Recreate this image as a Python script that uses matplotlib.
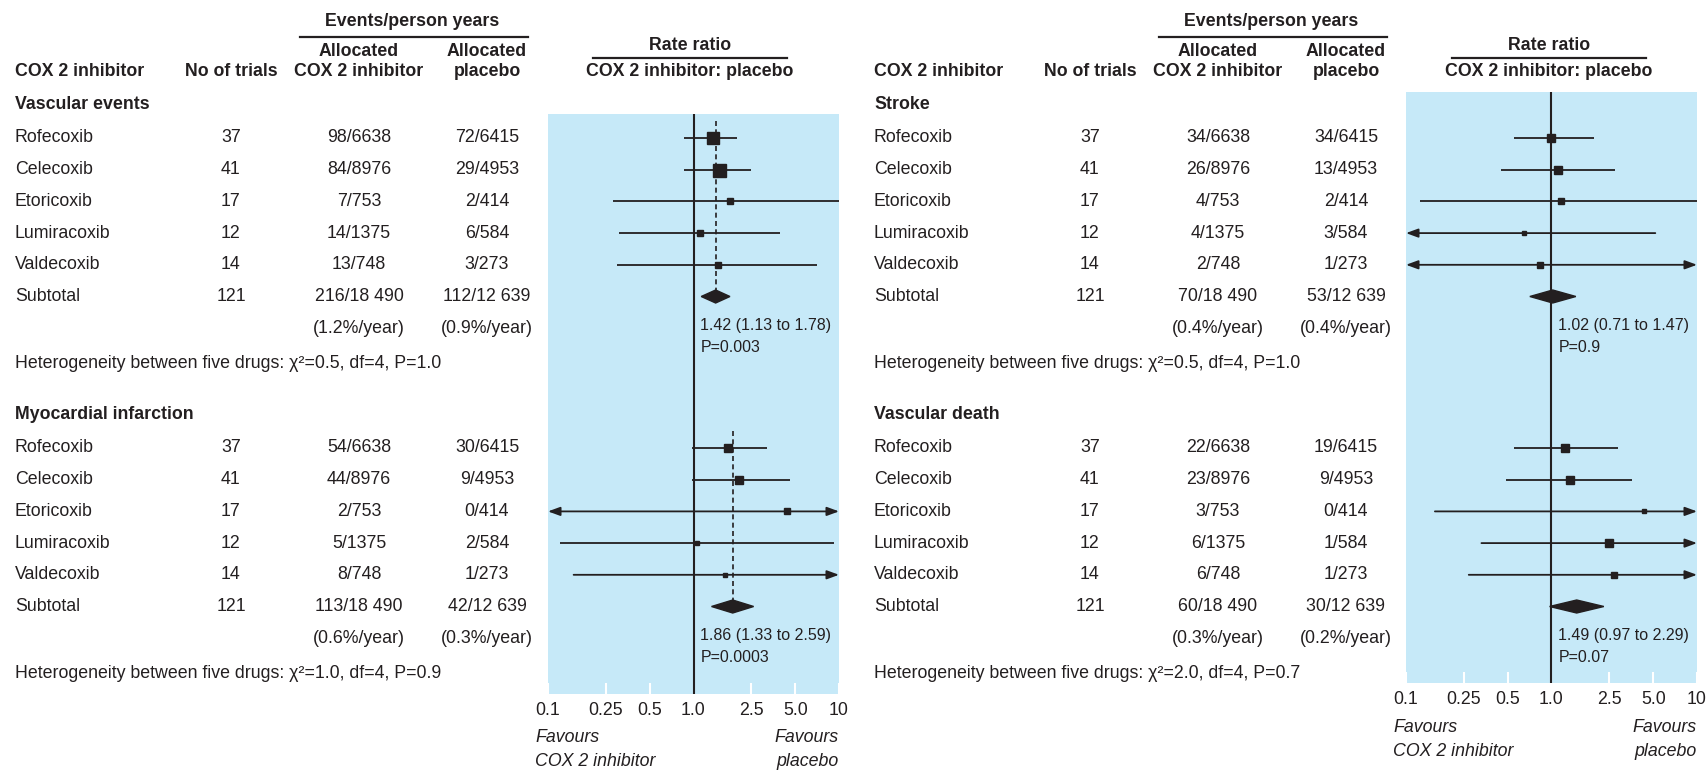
import matplotlib
matplotlib.use('Agg')
import matplotlib.pyplot as plt
from matplotlib.patches import Polygon

W, H = 1708, 773
BLUE = '#c6e9f8'
INK = '#231f20'
FS = 12.8

plt.rcParams['font.family'] = ['Liberation Sans', 'DejaVu Sans']

# ---- data ----
drugs = ['Rofecoxib', 'Celecoxib', 'Etoricoxib', 'Lumiracoxib', 'Valdecoxib']
n_trials = [37, 41, 17, 12, 14]
n_trials_total = 121
ticks = [0.1, 0.25, 0.5, 1.0, 2.5, 5.0, 10]
tick_labels = ['0.1', '0.25', '0.5', '1.0', '2.5', '5.0', '10']

# vascular events
ve_cox = ['98/6638', '84/8976', '7/753', '14/1375', '13/748']
ve_pla = ['72/6415', '29/4953', '2/414', '6/584', '3/273']
ve_tot = ['216/18 490', '112/12 639', '(1.2%/year)', '(0.9%/year)']
ve_rr = [1.37, 1.49, 1.78, 1.10, 1.47]
ve_lo = [0.86, 0.86, 0.28, 0.31, 0.30]
ve_hi = [2.00, 2.48, 10.0, 3.95, 7.10]
ve_box = [12, 13, 6, 6, 6.5]
ve_sum = [1.42, 1.13, 1.78]
ve_p = 'P=0.003'
ve_het = 'Heterogeneity between five drugs: χ²=0.5, df=4, P=1.0'

# myocardial infarction
mi_cox = ['54/6638', '44/8976', '2/753', '5/1375', '8/748']
mi_pla = ['30/6415', '9/4953', '0/414', '2/584', '1/273']
mi_tot = ['113/18 490', '42/12 639', '(0.6%/year)', '(0.3%/year)']
mi_rr = [1.73, 2.06, 4.37, 1.05, 1.65]
mi_lo = [0.98, 0.98, 0.05, 0.12, 0.15]
mi_hi = [3.20, 4.58, 20, 9.30, 20]
mi_box = [8.5, 8.7, 5.7, 4.7, 4]
mi_sum = [1.86, 1.33, 2.59]
mi_p = 'P=0.0003'
mi_het = 'Heterogeneity between five drugs: χ²=1.0, df=4, P=0.9'

# stroke
st_cox = ['34/6638', '26/8976', '4/753', '4/1375', '2/748']
st_pla = ['34/6415', '13/4953', '2/414', '3/584', '1/273']
st_tot = ['70/18 490', '53/12 639', '(0.4%/year)', '(0.4%/year)']
st_rr = [1.00, 1.11, 1.16, 0.65, 0.84]
st_lo = [0.55, 0.45, 0.125, 0.05, 0.05]
st_hi = [1.96, 2.75, 10.0, 5.17, 20]
st_box = [8.7, 7.7, 6, 4.3, 5.7]
st_sum = [1.02, 0.71, 1.47]
st_p = 'P=0.9'
st_het = 'Heterogeneity between five drugs: χ²=0.5, df=4, P=1.0'

# vascular death
vd_cox = ['22/6638', '23/8976', '3/753', '6/1375', '6/748']
vd_pla = ['19/6415', '9/4953', '0/414', '1/584', '1/273']
vd_tot = ['60/18 490', '30/12 639', '(0.3%/year)', '(0.2%/year)']
vd_rr = [1.23, 1.33, 4.32, 2.47, 2.69]
vd_lo = [0.55, 0.49, 0.158, 0.33, 0.27]
vd_hi = [2.88, 3.59, 20, 20, 20]
vd_box = [8.3, 8.7, 5, 7.3, 6]
vd_sum = [1.49, 0.97, 2.29]
vd_p = 'P=0.07'
vd_het = 'Heterogeneity between five drugs: χ²=2.0, df=4, P=0.7'

# ---- layout (pixels, y down) ----
DY = 31.7
ROW0 = [138, 448]


def row_y(sec, k):
    return ROW0[sec] + k * DY


fig = plt.figure(figsize=(W / 100, H / 100), dpi=100)
tax = fig.add_axes([0, 0, 1, 1])
tax.set_xlim(0, W)
tax.set_ylim(H, 0)
tax.axis('off')


def txt(x, y, s, ha='left', bold=False, **kw):
    tax.text(x, y, s, ha=ha, va='center', fontsize=FS, color=INK,
             fontweight='bold' if bold else 'normal', **kw)


def ci_line(ax, y, lo, hi):
    a, b = max(lo, 0.1), min(hi, 10)
    la, ra = lo < 0.1, hi > 10
    if la or ra:
        style = '<|-|>' if (la and ra) else ('<|-' if la else '-|>')
        ax.annotate('', xy=(b, y), xytext=(a, y),
                    arrowprops=dict(arrowstyle=style + ',head_length=0.6,head_width=0.22',
                                    color=INK, lw=1.3, mutation_scale=12,
                                    shrinkA=0, shrinkB=0))
    else:
        ax.plot([a, b], [y, y], color=INK, lw=1.3, solid_capstyle='butt')


def ax_note(ax, s, xy, dx, dy, ha, italic=False, size=FS):
    ax.annotate(s, xy=xy, xycoords='axes fraction', xytext=(dx, dy),
                textcoords='offset pixels', fontsize=size, color=INK, ha=ha,
                va='center', style='italic' if italic else 'normal')


def draw_block(dx, sections, box, dashed):
    # headers
    txt(412 + dx, 21, 'Events/person years', ha='center', bold=True)
    tax.plot([300 + dx, 528 + dx], [37, 37], color=INK, lw=1.6)
    txt(15 + dx, 72, 'COX 2 inhibitor', bold=True)
    txt(231 + dx, 72, 'No of trials', ha='center', bold=True)
    txt(359 + dx, 52, 'Allocated', ha='center', bold=True)
    txt(359 + dx, 72, 'COX 2 inhibitor', ha='center', bold=True)
    txt(487 + dx, 52, 'Allocated', ha='center', bold=True)
    txt(487 + dx, 72, 'placebo', ha='center', bold=True)
    txt(690 + dx, 45, 'Rate ratio', ha='center', bold=True)
    tax.plot([593 + dx, 787 + dx], [58, 58], color=INK, lw=1.6)
    txt(690 + dx, 72, 'COX 2 inhibitor: placebo', ha='center', bold=True)

    x0, y0, x1, y1 = box
    ax = fig.add_axes([x0 / W, 1 - y1 / H, (x1 - x0) / W, (y1 - y0) / H])
    ax.set_facecolor(BLUE)
    ax.set_xscale('log')
    ax.set_xlim(0.1, 10)
    ax.set_ylim(y1, y0)
    for s in ax.spines.values():
        s.set_visible(False)
    ax.set_yticks([])
    ax.set_xticks(ticks)
    ax.set_xticklabels(tick_labels, fontsize=FS, color=INK)
    ax.minorticks_off()
    ax.tick_params(axis='x', direction='in', length=8, width=1.5, color='white', pad=6)
    ax.axvline(1.0, color=INK, lw=1.5, zorder=2)
    ax_note(ax, 'Favours', (0, 0), -13, -44, 'left', italic=True)
    ax_note(ax, 'COX 2 inhibitor', (0, 0), -13, -68, 'left', italic=True)
    ax_note(ax, 'Favours', (1, 0), 0, -44, 'right', italic=True)
    ax_note(ax, 'placebo', (1, 0), 0, -68, 'right', italic=True)

    for si, sec in enumerate(sections):
        title, cox, pla, tot, het, rr, lo, hi, bx, summ, p = sec
        txt(15 + dx, row_y(si, -1.05), title, bold=True)
        for k in range(len(drugs)):
            y = row_y(si, k)
            txt(15 + dx, y, drugs[k])
            txt(231 + dx, y, str(n_trials[k]), ha='center')
            txt(359 + dx, y, cox[k], ha='center')
            txt(487 + dx, y, pla[k], ha='center')
            ci_line(ax, y, lo[k], hi[k])
            ax.plot(rr[k], y, marker='s', ms=bx[k] * 0.72, color=INK, ls='none', zorder=4)
        ys = row_y(si, 5)
        txt(15 + dx, ys, 'Subtotal')
        txt(231 + dx, ys, str(n_trials_total), ha='center')
        txt(359 + dx, ys, tot[0], ha='center')
        txt(487 + dx, ys, tot[1], ha='center')
        txt(359 + dx, row_y(si, 6), tot[2], ha='center')
        txt(487 + dx, row_y(si, 6), tot[3], ha='center')
        txt(15 + dx, row_y(si, 7.1), het)

        est, slo, shi = summ
        ax.add_patch(Polygon([(slo, ys), (est, ys - 6.5), (shi, ys), (est, ys + 6.5)],
                             closed=True, color=INK, zorder=4))
        if dashed:
            ax.plot([est, est], [row_y(si, -0.55), ys], color=INK, lw=1.2,
                    ls=(0, (3, 2)), zorder=3)
        for line, off in ((f'{est:.2f} ({slo:.2f} to {shi:.2f})', 29), (p, 51)):
            ax.annotate(line, xy=(1.0, ys + off), xytext=(7, 0),
                        textcoords='offset pixels', fontsize=FS * 0.9,
                        color=INK, ha='left', va='center')


left_sections = [
    ('Vascular events', ve_cox, ve_pla, ve_tot, ve_het, ve_rr, ve_lo, ve_hi, ve_box, ve_sum, ve_p),
    ('Myocardial infarction', mi_cox, mi_pla, mi_tot, mi_het, mi_rr, mi_lo, mi_hi, mi_box, mi_sum, mi_p),
]
right_sections = [
    ('Stroke', st_cox, st_pla, st_tot, st_het, st_rr, st_lo, st_hi, st_box, st_sum, st_p),
    ('Vascular death', vd_cox, vd_pla, vd_tot, vd_het, vd_rr, vd_lo, vd_hi, vd_box, vd_sum, vd_p),
]

draw_block(0, left_sections, (548, 114, 839, 694), True)
draw_block(859, right_sections, (1406, 92, 1697, 683), False)

fig.savefig('out.png', dpi=100)
